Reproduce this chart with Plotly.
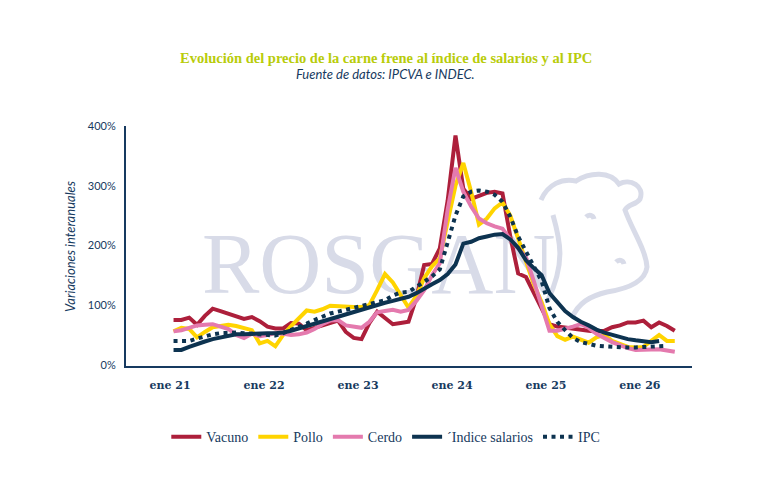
import plotly.graph_objects as go

# ---- data (monthly, year-on-year %, starting ene 21) ----
months = list(range(65))
tick_labels = ["ene 21", "ene 22", "ene 23", "ene 24", "ene 25", "ene 26"]
y_ticks = [0, 100, 200, 300, 400]

vacuno = [75, 75, 79, 67, 82, 94, 90, 86, 82, 77, 80, 73, 64, 61, 61, 70, 69, 58, 62, 66,
          70, 74, 55, 45, 43, 70, 89, 78, 68, 70, 72, 112, 167, 169, 195, 275, 384, 295, 278, 283,
          288, 290, 287, 215, 153, 147, 120, 95, 68, 64, 62, 60, 58, 57, 56, 57, 63, 66, 71, 71,
          74, 63, 71, 65, 57]
pollo = [56, 62, 60, 46, 55, 63, 65, 67, 65, 62, 58, 36, 40, 31, 50, 65, 78, 91, 89, 93,
         99, 98, 97, 97, 97, 100, 125, 152, 138, 118, 96, 115, 145, 165, 178, 240, 300, 338, 290, 235,
         245, 262, 272, 250, 210, 170, 135, 105, 68, 48, 42, 47, 42, 37, 46, 50, 40, 35, 30, 29,
         30, 40, 50, 40, 40]
cerdo = [56, 58, 62, 66, 67, 68, 64, 60, 50, 45, 52, 48, 50, 53, 52, 50, 51, 54, 60, 68,
         74, 75, 66, 64, 62, 72, 88, 90, 92, 89, 92, 107, 125, 150, 170, 260, 330, 290, 265, 245,
         237, 232, 228, 210, 195, 180, 140, 100, 57, 57, 60, 64, 68, 62, 52, 45, 38, 33, 28, 25,
         25, 26, 26, 24, 22]
salarios = [25, 25, 30, 35, 39, 43, 46, 49, 51, 51, 52, 53, 53, 53, 54, 57, 61, 65, 68, 72,
            76, 80, 84, 88, 92, 96, 100, 104, 107, 110, 114, 120, 128, 135, 142, 152, 168, 203, 206, 212,
            215, 218, 219, 210, 196, 175, 162, 150, 120, 105, 90, 80, 72, 66, 59, 54, 50, 46, 43, 41,
            39, 38, 40]
ipc = [40, 40, 40, 44, 48, 51, 53, 54, 54, 53, 52, 50, 50, 49, 53, 58, 63, 69, 75, 81,
       86, 89, 92, 95, 98, 101, 104, 108, 116, 121, 122, 130, 139, 148, 160, 205, 250, 282, 290, 292,
       290, 285, 273, 248, 215, 190, 165, 140, 95, 72, 58, 45, 38, 35, 32, 31, 30, 30, 29, 29,
       30, 30, 31, 32]

NAVY = "#173a60"
WM = "#d8dbe8"
fig = go.Figure()

# watermark text (behind the lines)
fig.add_trace(go.Scatter(x=[26.2], y=[157], mode="text", text=["ROSGAN"],
                         textfont=dict(family="Liberation Serif", size=86, color=WM),
                         hoverinfo="skip", showlegend=False))

series = [
    ("Vacuno", vacuno, "#ad1f3b", "solid"),
    ("Pollo", pollo, "#ffd400", "solid"),
    ("Cerdo", cerdo, "#e47aae", "solid"),
    ("\u00b4Indice salarios", salarios, "#0d3350", "solid"),
    ("IPC", ipc, "#0d3350", "4px,4.5px"),
]
for name, vals, col, dash in series:
    fig.add_trace(go.Scatter(x=months[:len(vals)], y=vals, mode="lines", name=name,
                             line=dict(color=col, width=4, dash=dash)))

# faint cow-head watermark outline (decorative), page pixels -> paper coords
L, R, T, B = 126, 692, 126, 366
def P(px, py):
    return f"{(px - L) / (R - L):.4f},{(B - py) / (B - T):.4f}"

cow_paths = [
    "M" + P(541, 200) + " C" + P(548, 184) + " " + P(562, 178) + " " + P(576, 181)
    + " C" + P(590, 172) + " " + P(610, 171) + " " + P(619, 184)
    + " C" + P(630, 178) + " " + P(645, 186) + " " + P(640, 199)
    + " C" + P(636, 205) + " " + P(628, 204) + " " + P(625, 210)
    + " C" + P(632, 230) + " " + P(646, 250) + " " + P(647, 267)
    + " C" + P(645, 282) + " " + P(626, 289) + " " + P(607, 292)
    + " C" + P(590, 296) + " " + P(578, 303) + " " + P(572, 318),
    "M" + P(553, 215) + " C" + P(560, 240) + " " + P(566, 262) + " " + P(548, 300),
    "M" + P(586, 217) + " C" + P(589, 214) + " " + P(593, 215) + " " + P(594, 219),
    "M" + P(616, 262) + " C" + P(619, 259) + " " + P(623, 260) + " " + P(624, 264),
]
shapes = [dict(type="path", path=p, xref="paper", yref="paper", layer="below",
               line=dict(color=WM, width=5)) for p in cow_paths]

fig.update_layout(
    width=778, height=479,
    margin=dict(l=126, r=86, t=126, b=113),
    paper_bgcolor="white", plot_bgcolor="white",
    showlegend=True,
    shapes=shapes,
    legend=dict(orientation="h", x=0.459, xanchor="center", y=-0.296, yanchor="middle",
                font=dict(family="Liberation Serif", size=14, color=NAVY),
                itemwidth=30, tracegroupgap=0),
    xaxis=dict(range=[-6.07, 66.2], showgrid=False, zeroline=False,
               showline=True, linecolor=NAVY, linewidth=2,
               tickvals=[12 * i - 0.45 for i in range(len(tick_labels))], ticktext=tick_labels,
               ticks="", ticklabelstandoff=8,
               tickfont=dict(family="DejaVu Serif", size=11, color=NAVY, weight="bold")),
    yaxis=dict(range=[-2, 400], showgrid=False, zeroline=False,
               showline=True, linecolor=NAVY, linewidth=2,
               tickvals=y_ticks, ticktext=[f"{v}%" for v in y_ticks],
               ticks="", ticklabelstandoff=6,
               tickfont=dict(family="Lato", size=11, color=NAVY)),
    annotations=[
        dict(text="<b>Evolución del precio de la carne frene al índice de salarios y al IPC</b>",
             x=0.459, y=1.283, xref="paper", yref="paper", showarrow=False,
             font=dict(family="Liberation Serif", size=14.5, color="#b8cc0a"),
             xanchor="center", yanchor="middle"),
        dict(text="<i>Fuente de datos: IPCVA e INDEC.</i>",
             x=0.459, y=1.217, xref="paper", yref="paper", showarrow=False,
             font=dict(family="Lato", size=13, color=NAVY),
             xanchor="center", yanchor="middle"),
        dict(text="<i>Variaciones interanuales</i>", textangle=-90,
             x=-0.099, y=0.5, xref="paper", yref="paper", showarrow=False,
             font=dict(family="Lato", size=13, color=NAVY),
             xanchor="center", yanchor="middle"),
    ],
)

fig.write_html("out.html")
